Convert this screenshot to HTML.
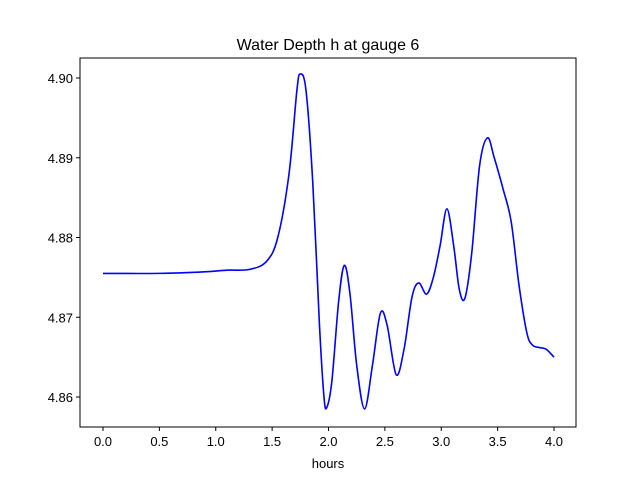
<!DOCTYPE html>
<html><head><meta charset="utf-8"><style>
body{margin:0;background:#fff;}
svg{display:block;font-family:"Liberation Sans","DejaVu Sans",sans-serif;}
</style></head><body>
<svg id="chart" width="640" height="480">
<rect width="640" height="480" fill="#fff"/>
<text x="328" y="50" text-anchor="middle" font-size="16">Water Depth h at gauge 6</text>
<g id="plot"></g>
<text x="328" y="468" text-anchor="middle" font-size="13">hours</text>
</svg>
<script>
const hours=[0,0.5,0.9,1.1,1.3,1.45,1.55,1.65,1.72,1.75,1.8,1.86,1.92,1.96,1.985,2.03,2.09,2.14,2.19,2.25,2.32,2.39,2.46,2.52,2.6,2.67,2.74,2.8,2.87,2.93,2.99,3.05,3.11,3.16,3.21,3.27,3.34,3.41,3.47,3.55,3.62,3.69,3.76,3.81,3.87,3.93,4.0];
const depth=[4.8755,4.8755,4.8757,4.8759,4.8760,4.8770,4.8800,4.8880,4.8985,4.9005,4.8985,4.8870,4.8690,4.8600,4.8587,4.8620,4.8720,4.8765,4.8730,4.8640,4.8585,4.8640,4.8705,4.8690,4.8628,4.8660,4.8725,4.8743,4.8729,4.8750,4.8790,4.8836,4.8790,4.8735,4.8724,4.8780,4.8890,4.8925,4.8900,4.8860,4.8820,4.8740,4.8680,4.8665,4.8662,4.8660,4.8650];
const xTicks=[0,0.5,1,1.5,2,2.5,3,3.5,4];
const xLabels=["0.0","0.5","1.0","1.5","2.0","2.5","3.0","3.5","4.0"];
const yTicks=[4.86,4.87,4.88,4.89,4.90];
const yLabels=["4.86","4.87","4.88","4.89","4.90"];
const L=80,R=576,T=58,B=427;
const xs=v=>103+v*112.75;
const ys=v=>397-(v-4.86)*7975;
const ns="http://www.w3.org/2000/svg";
const g=document.getElementById('plot');
function mk(t,a){const e=document.createElementNS(ns,t);for(const k in a)e.setAttribute(k,a[k]);return e;}
xTicks.forEach((v,i)=>{
 const l=mk('line',{x1:xs(v),x2:xs(v),y1:B,y2:B+4,stroke:'#000'});
 
 
 g.appendChild(l);
 const t=mk('text',{x:xs(v),y:B+19,'text-anchor':'middle','font-size':'13'});
 t.textContent=xLabels[i];
 
 
 g.appendChild(t);
});
yTicks.forEach((v,i)=>{
 const l=mk('line',{x1:L-4,x2:L,y1:ys(v),y2:ys(v),stroke:'#000'});
 
 
 g.appendChild(l);
 const t=mk('text',{x:L-7,y:ys(v)+5,'text-anchor':'end','font-size':'13'});
 t.textContent=yLabels[i];
 
 
 g.appendChild(t);
});
// smooth path (Catmull-Rom)
const P=hours.map((h,i)=>[xs(h),ys(depth[i])]);
let d='M'+P[0][0]+','+P[0][1];
for(let i=0;i<P.length-1;i++){
 const p0=P[Math.max(0,i-1)],p1=P[i],p2=P[i+1],p3=P[Math.min(P.length-1,i+2)];
 const c1=[p1[0]+(p2[0]-p0[0])/6,p1[1]+(p2[1]-p0[1])/6];
 const c2=[p2[0]-(p3[0]-p1[0])/6,p2[1]-(p3[1]-p1[1])/6];
 d+=` C${c1[0]},${c1[1]} ${c2[0]},${c2[1]} ${p2[0]},${p2[1]}`;
}
const line=mk('path',{d:d,fill:'none',stroke:'#0000ff','stroke-width':'1.6'});


g.appendChild(line);
const frame=mk('rect',{x:L,y:T,width:R-L,height:B-T,fill:'none',stroke:'#000','stroke-width':'1'});


g.appendChild(frame);
</script>
</body></html>
